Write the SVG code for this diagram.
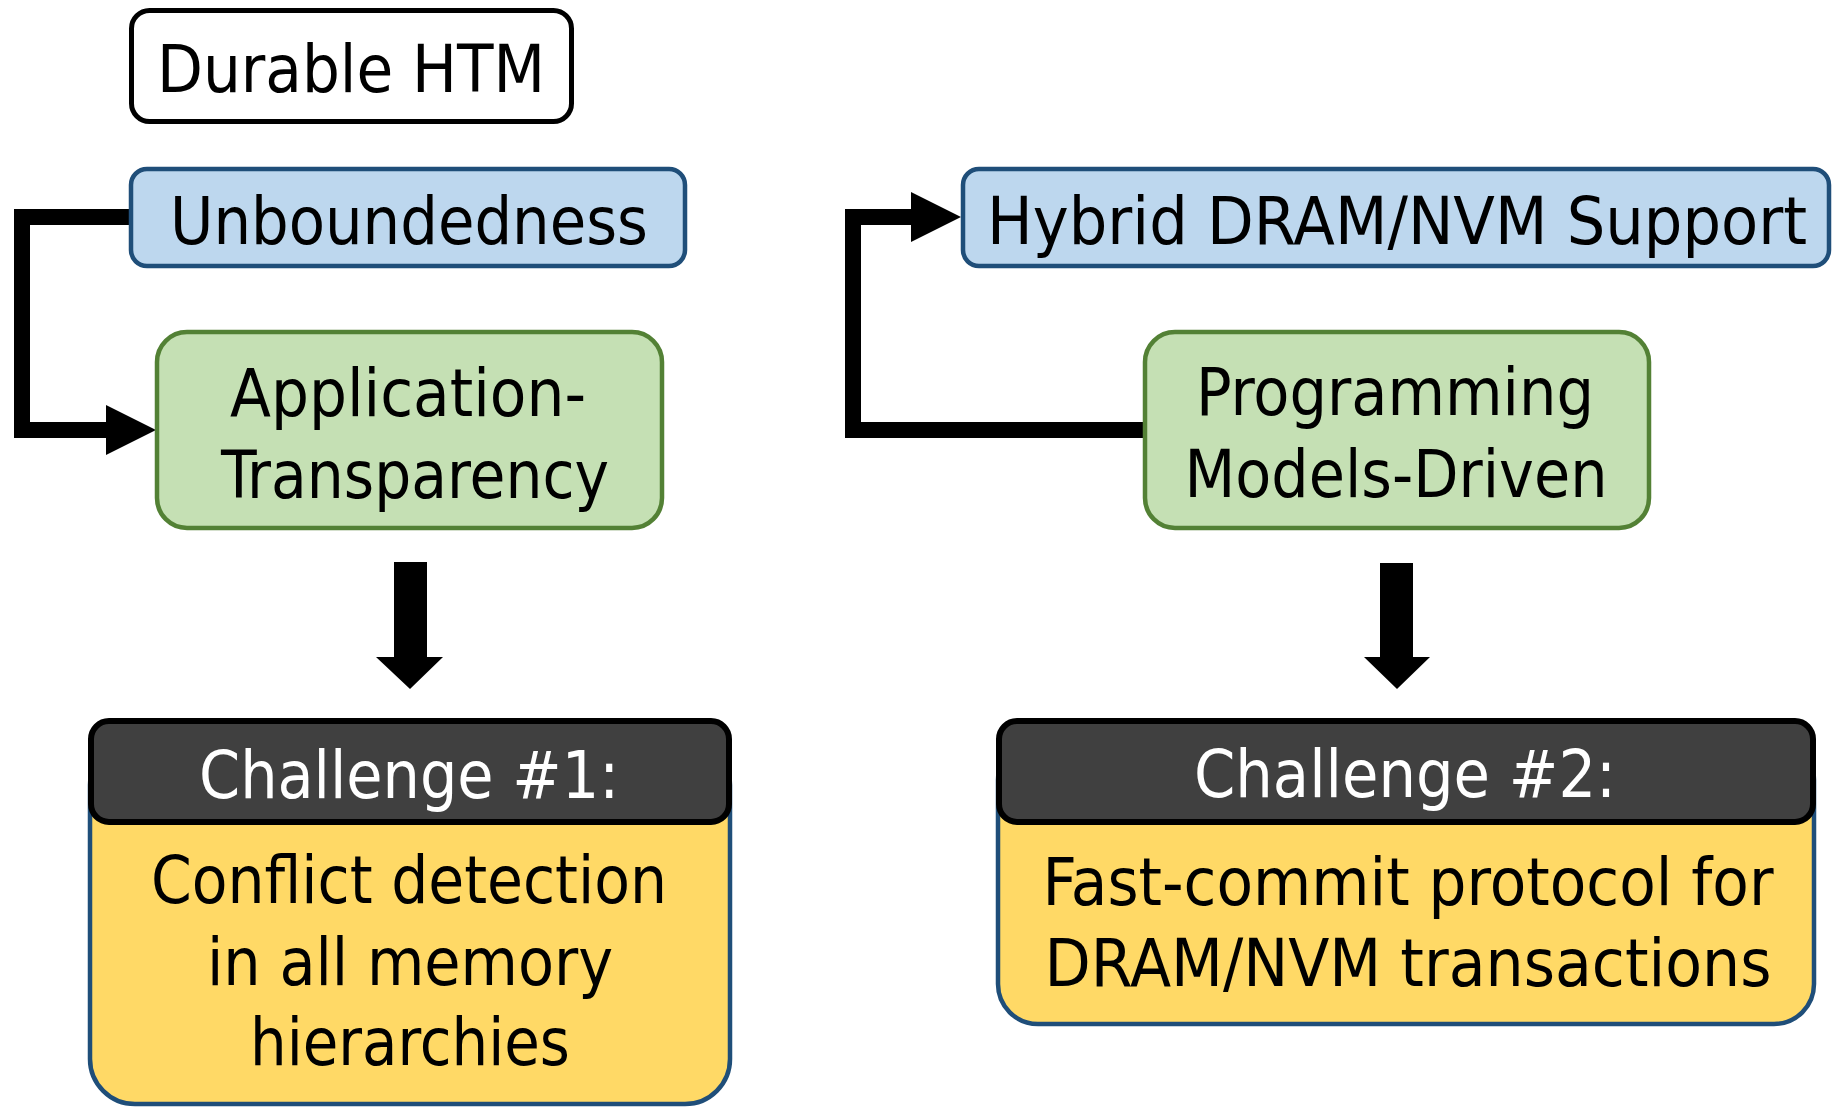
<svg xmlns="http://www.w3.org/2000/svg" width="1836" height="1108" viewBox="0 0 1836 1108">
  <style>
    .lbl { font-family: "DejaVu Sans", Verdana, sans-serif; font-stretch: condensed; font-size: 66px; text-anchor: middle; fill: #000; }
    .wht { fill: #fff; }
    .plain { fill: #fff; stroke: #000; stroke-width: 5; }
    .blue { fill: #BDD7EE; stroke: #1F4E79; stroke-width: 4.5; }
    .green { fill: #C5E0B4; stroke: #538135; stroke-width: 4.5; }
    .body { fill: #FFD966; stroke: #1F4E79; stroke-width: 4.5; }
    .head { fill: #404040; stroke: #000; stroke-width: 6; }
    .wire { fill: none; stroke: #000; stroke-width: 16; stroke-linejoin: miter; }
    .tip { fill: #000; }
  </style>
  <rect width="1836" height="1108" fill="#fff"/>

  <g id="connectors">
    <!-- Unboundedness -> Application-Transparency -->
    <path class="wire" d="M131 217 H22 V430 H108"/>
    <polygon class="tip" points="106,405 156,430 106,455"/>
    <!-- Programming Models-Driven -> Hybrid DRAM/NVM Support -->
    <path class="wire" d="M1145 430 H853 V217 H913"/>
    <polygon class="tip" points="911,192 961,217 911,242"/>
    <!-- down arrows to the challenges -->
    <polygon class="tip" points="394,562 427,562 427,657 443,657 410,689 376,657 394,657"/>
    <polygon class="tip" points="1380,563 1413,563 1413,657 1430,657 1397,689 1364,657 1380,657"/>
  </g>

  <g id="durable-htm">
    <rect class="plain" x="131.5" y="10.5" width="440" height="111" rx="18"/>
    <text class="lbl" x="351" y="92" textLength="388" lengthAdjust="spacingAndGlyphs">Durable HTM</text>
  </g>

  <g id="unboundedness">
    <rect class="blue" x="131" y="169" width="554" height="97" rx="16"/>
    <text class="lbl" x="409" y="244" textLength="478" lengthAdjust="spacingAndGlyphs">Unboundedness</text>
  </g>

  <g id="hybrid-support">
    <rect class="blue" x="963" y="169" width="866" height="97" rx="16"/>
    <text class="lbl" x="1397" y="244" textLength="820" lengthAdjust="spacingAndGlyphs">Hybrid DRAM/NVM Support</text>
  </g>

  <g id="app-transparency">
    <rect class="green" x="157" y="332" width="505" height="196" rx="30"/>
    <text class="lbl" x="408" y="416" textLength="356" lengthAdjust="spacingAndGlyphs">Application-</text>
    <text class="lbl" x="415" y="498" textLength="388" lengthAdjust="spacingAndGlyphs">Transparency</text>
  </g>

  <g id="prog-models">
    <rect class="green" x="1145" y="332" width="504" height="196" rx="30"/>
    <text class="lbl" x="1395" y="415" textLength="398" lengthAdjust="spacingAndGlyphs">Programming</text>
    <text class="lbl" x="1396" y="497" textLength="423" lengthAdjust="spacingAndGlyphs">Models-Driven</text>
  </g>

  <g id="challenge-1">
    <rect class="body" x="90" y="740" width="640" height="364" rx="45"/>
    <rect class="head" x="91" y="721" width="638" height="101" rx="18"/>
    <text class="lbl wht" x="409" y="798" textLength="420" lengthAdjust="spacingAndGlyphs">Challenge #1:</text>
    <text class="lbl" x="409" y="903" textLength="516" lengthAdjust="spacingAndGlyphs">Conflict detection</text>
    <text class="lbl" x="410" y="985" textLength="406" lengthAdjust="spacingAndGlyphs">in all memory</text>
    <text class="lbl" x="410" y="1065" textLength="320" lengthAdjust="spacingAndGlyphs">hierarchies</text>
  </g>

  <g id="challenge-2">
    <rect class="body" x="998" y="740" width="816" height="284" rx="40"/>
    <rect class="head" x="999" y="721" width="814" height="101" rx="18"/>
    <text class="lbl wht" x="1405" y="797" textLength="422" lengthAdjust="spacingAndGlyphs">Challenge #2:</text>
    <text class="lbl" x="1408" y="905" textLength="731" lengthAdjust="spacingAndGlyphs">Fast-commit protocol for</text>
    <text class="lbl" x="1408" y="986" textLength="727" lengthAdjust="spacingAndGlyphs">DRAM/NVM transactions</text>
  </g>
</svg>
